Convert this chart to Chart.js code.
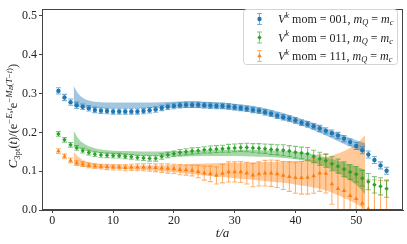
<!DOCTYPE html>
<html>
<head>
<meta charset="utf-8">
<script src="https://cdn.jsdelivr.net/npm/chart.js@4/dist/chart.umd.min.js"></script>
<style>
  html, body { margin: 0; padding: 0; background: #fff; }
  #wrap { width: 407px; height: 244px; }
</style>
</head>
<body>
<div id="wrap"><canvas id="chart" width="407" height="244"></canvas></div>
<script>
// t/a values
const times = [1,2,3,4,5,6,7,8,9,10,11,12,13,14,15,16,17,18,19,20,21,22,23,24,25,26,27,28,29,30,
  31,32,33,34,35,36,37,38,39,40,41,42,43,44,45,46,47,48,49,50,51,52,53,54,55];

// mom = 001
const blueVals = [0.307,0.290,0.278,0.270,0.266,0.262,0.258,0.256,0.255,0.254,
  0.254,0.254,0.254,0.254,0.255,0.257,0.259,0.263,0.266,0.268,
  0.270,0.271,0.271,0.271,0.270,0.269,0.268,0.268,0.267,0.265,
  0.263,0.261,0.258,0.256,0.252,0.248,0.243,0.239,0.236,0.231,
  0.225,0.221,0.216,0.210,0.204,0.198,0.192,0.184,0.175,0.165,
  0.154,0.143,0.129,0.115,0.101];
const blueErr = [0.008,0.008,0.008,0.008,0.007,0.007,0.007,0.007,0.007,0.007,
  0.007,0.007,0.007,0.007,0.007,0.007,0.007,0.007,0.007,0.007,
  0.007,0.007,0.007,0.007,0.007,0.007,0.007,0.007,0.007,0.007,
  0.007,0.007,0.007,0.007,0.007,0.007,0.007,0.007,0.007,0.007,
  0.007,0.007,0.007,0.008,0.008,0.008,0.008,0.008,0.008,0.009,
  0.009,0.009,0.009,0.009,0.009];

// mom = 011
const greenVals = [0.196,0.181,0.168,0.160,0.153,0.148,0.144,0.142,0.141,0.140,
  0.140,0.138,0.137,0.135,0.134,0.133,0.133,0.138,0.142,0.145,
  0.148,0.150,0.152,0.153,0.155,0.156,0.157,0.158,0.159,0.160,
  0.161,0.161,0.160,0.159,0.158,0.156,0.155,0.154,0.152,0.149,
  0.147,0.145,0.138,0.132,0.127,0.119,0.113,0.105,0.098,0.092,
  0.082,0.073,0.065,0.061,0.055];
const greenErr = [0.006,0.006,0.006,0.006,0.006,0.006,0.006,0.006,0.006,0.006,
  0.006,0.006,0.006,0.006,0.006,0.007,0.007,0.007,0.007,0.007,
  0.008,0.008,0.008,0.008,0.008,0.009,0.009,0.009,0.010,0.010,
  0.010,0.011,0.011,0.012,0.012,0.013,0.013,0.014,0.014,0.015,
  0.015,0.016,0.016,0.017,0.017,0.018,0.018,0.019,0.019,0.020,
  0.020,0.021,0.021,0.022,0.022];

// mom = 111
const orangeVals = [0.152,0.138,0.128,0.121,0.118,0.115,0.113,0.112,0.111,0.110,
  0.110,0.109,0.110,0.110,0.110,0.110,0.109,0.108,0.107,0.106,
  0.104,0.103,0.102,0.099,0.095,0.093,0.089,0.094,0.098,0.098,
  0.098,0.095,0.090,0.093,0.095,0.095,0.093,0.089,0.086,0.083,
  0.083,0.084,0.088,0.095,0.094,0.067,0.055,0.050,0.037,0.029,
  0.017,0.003,-0.002,-0.004,-0.010];
const orangeErr = [0.006,0.006,0.006,0.006,0.006,0.006,0.006,0.006,0.007,0.007,
  0.007,0.008,0.008,0.009,0.009,0.010,0.010,0.011,0.012,0.012,
  0.013,0.013,0.014,0.016,0.018,0.020,0.022,0.024,0.026,0.026,
  0.027,0.028,0.030,0.031,0.033,0.034,0.035,0.036,0.038,0.040,
  0.042,0.043,0.045,0.047,0.050,0.052,0.055,0.057,0.060,0.062,
  0.065,0.075,0.080,0.080,0.085];

// fit bands (upper / lower edges)
const bandT = [3.5,4,4.5,5,6,7,8,10,12,15,18,20,22,25,28,30,33,35,38,40,42,45,48,50,51.5];
const blueHi = [0.321,0.306,0.296,0.289,0.282,0.279,0.278,0.277,0.277,0.277,0.278,0.279,0.280,0.279,0.277,0.274,0.268,0.262,0.250,0.240,0.230,0.211,0.192,0.180,0.172];
const blueLo = [0.267,0.266,0.265,0.264,0.263,0.263,0.262,0.262,0.262,0.262,0.262,0.263,0.263,0.262,0.260,0.257,0.251,0.245,0.232,0.222,0.212,0.192,0.170,0.157,0.146];
const greenHi = [0.204,0.191,0.180,0.173,0.164,0.159,0.156,0.153,0.152,0.151,0.151,0.152,0.153,0.154,0.155,0.155,0.155,0.154,0.152,0.150,0.146,0.136,0.122,0.112,0.103];
const greenLo = [0.162,0.160,0.157,0.155,0.151,0.148,0.146,0.143,0.141,0.139,0.138,0.138,0.138,0.139,0.139,0.139,0.138,0.137,0.134,0.131,0.126,0.111,0.086,0.065,0.040];
const orangeHi = [0.151,0.141,0.134,0.129,0.123,0.120,0.118,0.116,0.115,0.115,0.115,0.116,0.118,0.120,0.121,0.122,0.123,0.124,0.125,0.126,0.129,0.136,0.152,0.170,0.193];
const orangeLo = [0.118,0.116,0.114,0.112,0.110,0.109,0.108,0.106,0.105,0.103,0.100,0.097,0.094,0.089,0.085,0.082,0.078,0.075,0.070,0.066,0.061,0.050,0.031,0.016,0.000];

const xTicks = [0,10,20,30,40,50];
const yTicks = [0.0,0.1,0.2,0.3,0.4,0.5];
const seriesMoms = ['001','011','111'];

const BLUE = '#1f77b4', GREEN = '#2ca02c', ORANGE = '#ff7f0e';
const SERIF = '"Liberation Serif", "DejaVu Serif", serif';
const AXIS = '#444';

const pts = (xs, ys) => xs.map((x, i) => ({ x: x, y: ys[i] }));

// rich text: [text, italic, level]  level 0 base, 1 sup, -1 sub, 2 sub inside sup
function segFont(seg, fs) {
  const size = seg[2] === 0 ? fs : (seg[2] === 2 ? fs * 0.55 : fs * 0.7);
  return { size, font: (seg[1] ? 'italic ' : '') + size.toFixed(1) + 'px ' + SERIF };
}
function segShift(seg, fs) {
  if (seg[2] === 1) return -0.42 * fs;
  if (seg[2] === -1) return 0.2 * fs;
  if (seg[2] === 2) return -0.3 * fs;
  return 0;
}
function richWidth(ctx, segs, fs) {
  let w = 0;
  segs.forEach(s => { ctx.font = segFont(s, fs).font; w += ctx.measureText(s[0]).width; });
  return w;
}
function drawRich(ctx, segs, x, y, fs) {
  ctx.textBaseline = 'alphabetic';
  ctx.textAlign = 'left';
  segs.forEach(s => {
    ctx.font = segFont(s, fs).font;
    ctx.fillText(s[0], x, y + segShift(s, fs));
    x += ctx.measureText(s[0]).width;
  });
}

const yLabelSegs = [
  ['C', true, 0], ['3pt', false, -1], ['(', false, 0], ['t', true, 0], [')/(e', false, 0],
  ['\u2212', false, 1], ['E', true, 1], ['s', true, 2], ['t', true, 1],
  ['e', false, 0], ['\u2212', false, 1], ['M', true, 1], ['B', true, 2],
  ['(', false, 1], ['T', true, 1], ['\u2212', false, 1], ['t', true, 1], [')', false, 1],
  [')', false, 0]
];
const legendSegs = mom => [
  ['V', true, 0], ['k', true, 1], [' mom = ' + mom + ', ', false, 0],
  ['m', true, 0], ['Q', true, -1], [' = ', false, 0], ['m', true, 0], ['c', true, -1]
];

function drawErrBar(ctx, px, y0, y1, cap) {
  ctx.beginPath();
  ctx.moveTo(px, y0); ctx.lineTo(px, y1);
  ctx.moveTo(px - cap, y0); ctx.lineTo(px + cap, y0);
  ctx.moveTo(px - cap, y1); ctx.lineTo(px + cap, y1);
  ctx.stroke();
}

const errorBars = {
  id: 'errorBars',
  beforeDatasetDraw(chart, args) {
    const ds = chart.data.datasets[args.index];
    if (!ds.yErr) return;
    const { ctx, chartArea: a } = chart;
    const x = chart.scales.x, y = chart.scales.y;
    ctx.save();
    ctx.beginPath();
    ctx.rect(a.left, a.top, a.right - a.left, a.bottom - a.top);
    ctx.clip();
    ctx.strokeStyle = ds.barColor;
    ctx.lineWidth = 1.1;
    ds.data.forEach((p, i) => {
      const px = x.getPixelForValue(p.x);
      drawErrBar(ctx, px, y.getPixelForValue(p.y - ds.yErr[i]), y.getPixelForValue(p.y + ds.yErr[i]), 2.5);
    });
    ctx.restore();
  }
};

const decor = {
  id: 'decor',
  afterDraw(chart) {
    const { ctx, chartArea: a } = chart;
    ctx.save();
    // frame
    ctx.strokeStyle = AXIS;
    ctx.lineWidth = 1;
    ctx.strokeRect(Math.round(a.left) + 0.5, Math.round(a.top) + 0.5,
      Math.round(a.right - a.left) - 1, Math.round(a.bottom - a.top) - 1);

    // axis titles
    ctx.fillStyle = '#222';
    ctx.font = 'italic 13px ' + SERIF;
    ctx.textAlign = 'center';
    ctx.textBaseline = 'alphabetic';
    ctx.fillText('t/a', (a.left + a.right) / 2, 237);

    const fs = 12.5;
    const w = richWidth(ctx, yLabelSegs, fs);
    ctx.save();
    ctx.translate(17, 116 + w / 2);
    ctx.rotate(-Math.PI / 2);
    drawRich(ctx, yLabelSegs, 0, 0, fs);
    ctx.restore();

    // legend
    const lx = 243.5, ly = 9.5, lw = 154, lh = 55;
    ctx.fillStyle = 'rgba(255,255,255,0.85)';
    ctx.strokeStyle = '#d4d4d4';
    ctx.lineWidth = 1;
    ctx.beginPath();
    ctx.roundRect(lx, ly, lw, lh, 3);
    ctx.fill();
    ctx.stroke();
    const colors = [BLUE, GREEN, ORANGE];
    const fills = ['rgba(31,119,180,0.6)', 'rgba(44,160,44,0.6)', 'rgba(255,127,14,0.6)'];
    const styles = ['circle', 'rectRot', 'triangle'];
    seriesMoms.forEach((mom, i) => {
      const cy = 19 + i * 18.5;
      ctx.strokeStyle = fills[i];
      ctx.lineWidth = 1.1;
      drawErrBar(ctx, 259.5, cy - 5.5, cy + 5.5, 2.5);
      ctx.fillStyle = colors[i];
      Chart.helpers.drawPoint(ctx, { pointStyle: styles[i], radius: i === 2 ? 2.6 : 2.2, borderWidth: 0 }, 259.5, cy);
      ctx.fillStyle = '#222';
      drawRich(ctx, legendSegs(mom), 278, cy + 4, 12);
    });
    ctx.restore();
  }
};

const pointSet = (label, vals, errs, color, barColor, style, r) => ({
  type: 'scatter',
  label: label,
  data: pts(times, vals),
  yErr: errs,
  barColor: barColor,
  pointStyle: style,
  pointRadius: r,
  pointBorderWidth: 0,
  backgroundColor: color,
  borderColor: color,
  order: 0
});
const bandSet = (hi, lo, color) => [
  { type: 'line', data: pts(bandT, hi), fill: '+1', backgroundColor: color, borderColor: 'transparent',
    pointRadius: 0, cubicInterpolationMode: 'monotone', order: 10 },
  { type: 'line', data: pts(bandT, lo), fill: false, backgroundColor: color, borderColor: 'transparent',
    pointRadius: 0, cubicInterpolationMode: 'monotone', order: 10 }
];

new Chart(document.getElementById('chart'), {
  type: 'scatter',
  data: {
    datasets: [
      pointSet('001', blueVals, blueErr, BLUE, 'rgba(31,119,180,0.6)', 'circle', 2.2),
      pointSet('011', greenVals, greenErr, GREEN, 'rgba(44,160,44,0.6)', 'rectRot', 2.2),
      pointSet('111', orangeVals, orangeErr, ORANGE, 'rgba(255,127,14,0.6)', 'triangle', 2.6),
      ...bandSet(blueHi, blueLo, 'rgba(31,119,180,0.42)'),
      ...bandSet(greenHi, greenLo, 'rgba(44,160,44,0.42)'),
      ...bandSet(orangeHi, orangeLo, 'rgba(255,127,14,0.42)')
    ]
  },
  options: {
    responsive: false,
    devicePixelRatio: 1,
    animation: false,
    layout: { padding: { top: 3, right: 4, left: 0, bottom: 0 } },
    plugins: { legend: { display: false }, tooltip: { enabled: false } },
    scales: {
      x: {
        type: 'linear', min: -1.7, max: 57.7,
        afterFit: s => { s.height = 34; },
        afterBuildTicks: s => { s.ticks = xTicks.map(v => ({ value: v })); },
        grid: { drawOnChartArea: false, tickLength: 3, color: AXIS },
        border: { color: AXIS },
        ticks: { font: { family: SERIF, size: 12 }, color: '#222', padding: 1, maxRotation: 0 }
      },
      y: {
        type: 'linear', min: 0, max: 0.5175,
        afterFit: s => { s.width = 42; },
        afterBuildTicks: s => { s.ticks = yTicks.map(v => ({ value: v })); },
        grid: { drawOnChartArea: false, tickLength: 3, color: AXIS },
        border: { color: AXIS },
        ticks: { font: { family: SERIF, size: 12 }, color: '#222', padding: 2,
          callback: v => v.toFixed(1) }
      }
    }
  },
  plugins: [errorBars, decor]
});
</script>
</body>
</html>
